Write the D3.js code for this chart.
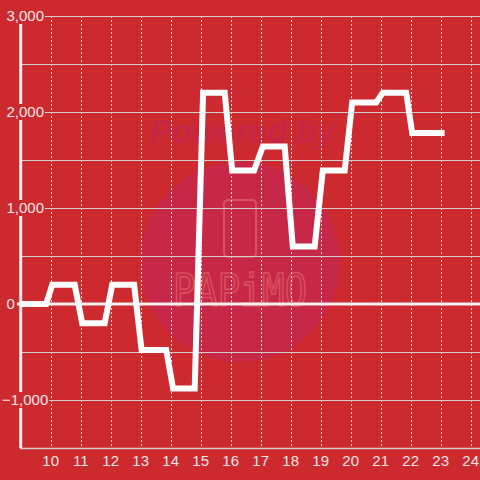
<!DOCTYPE html>
<html>
<head>
<meta charset="utf-8">
<script src="https://cdn.jsdelivr.net/npm/d3@7"></script>
<style>
  html, body { margin: 0; padding: 0; background: #cc2a2f; }
  svg { display: block; }
</style>
</head>
<body>
<svg id="chart" width="480" height="480"></svg>
<script>
// hour of day (x) and value (y)
const times = [9.0, 9.85, 10.05, 10.8, 11.05, 11.8, 12.05, 12.78, 13.03, 13.85, 14.08, 14.8,
  15.08, 15.8, 16.05, 16.78, 17.07, 17.8, 18.07, 18.8, 19.07, 19.8, 20.05, 20.85,
  21.07, 21.85, 22.05, 23.13];
const values = [0, 0, 200, 200, -200, -200, 200, 200, -480, -480, -880, -880,
  2200, 2200, 1390, 1390, 1640, 1640, 600, 600, 1390, 1390, 2100, 2100,
  2200, 2200, 1780, 1780];
const xTicks = [10, 11, 12, 13, 14, 15, 16, 17, 18, 19, 20, 21, 22, 23, 24];
const yGrid = [-1000, -500, 500, 1000, 1500, 2000, 2500, 3000];
const yLabels = [-1000, 0, 1000, 2000, 3000];

const width = 480, height = 480;
const bg = '#cc2a2f';
const svg = d3.select('#chart');

const x = d3.scaleLinear().domain([9, 24]).range([20.7, 470.7]);
const y = d3.scaleLinear().domain([-1500, 3000]).range([448, 16]);
const fmt = d3.format(',');

svg.append('rect').attr('width', width).attr('height', height).attr('fill', bg);

// watermark
const wm = svg.append('g');
wm.append('circle').attr('cx', 240).attr('cy', 262).attr('r', 100).attr('fill', '#c82848');
wm.append('text')
  .attr('x', 242).attr('y', 143)
  .attr('text-anchor', 'middle')
  .attr('textLength', 185).attr('lengthAdjust', 'spacingAndGlyphs')
  .style('font', 'italic bold 34px "Liberation Sans", Arial, sans-serif')
  .attr('fill', '#c62645')
  .text('Powered by');
wm.append('rect')
  .attr('x', 224).attr('y', 200).attr('width', 32).attr('height', 57).attr('rx', 4)
  .attr('fill', 'none').attr('stroke', '#d8535f').attr('stroke-width', 2);
wm.append('text')
  .attr('x', 240).attr('y', 306)
  .attr('text-anchor', 'middle')
  .attr('textLength', 134).attr('lengthAdjust', 'spacingAndGlyphs')
  .style('font', '44px "DejaVu Sans Mono", monospace')
  .attr('fill', 'none').attr('stroke', '#d8535f').attr('stroke-width', 1.6)
  .text('PAPiMO');

// vertical dotted grid
svg.append('g')
  .selectAll('line').data(xTicks).join('line')
  .attr('x1', d => Math.round(x(d)) + 0.5).attr('x2', d => Math.round(x(d)) + 0.5)
  .attr('y1', y(3000)).attr('y2', y(-1500))
  .attr('stroke', '#e6dede').attr('stroke-width', 1).attr('stroke-dasharray', '2,2');

// horizontal grid
svg.append('g')
  .selectAll('line').data(yGrid).join('line')
  .attr('x1', d => yLabels.includes(d) ? 45 : 22).attr('x2', width)
  .attr('y1', d => Math.round(y(d)) + 0.5).attr('y2', d => Math.round(y(d)) + 0.5)
  .attr('stroke', '#d2cccc').attr('stroke-width', 1);

// bottom axis line
svg.append('line')
  .attr('x1', 20).attr('x2', width).attr('y1', 448.5).attr('y2', 448.5)
  .attr('stroke', '#d2cccc').attr('stroke-width', 1.5);

// zero line
svg.append('line')
  .attr('x1', 17).attr('x2', width).attr('y1', y(0)).attr('y2', y(0))
  .attr('stroke', '#f4f0f0').attr('stroke-width', 3);

// y axis line
svg.append('line')
  .attr('x1', 20.7).attr('x2', 20.7).attr('y1', y(3000)).attr('y2', 448)
  .attr('stroke', '#f0ecec').attr('stroke-width', 3);

// data line
const pts = times.map((t, i) => [t, values[i]]);
const line = d3.line().x(d => x(d[0])).y(d => y(d[1]));
svg.append('path')
  .attr('d', line(pts))
  .attr('fill', 'none')
  .attr('stroke', '#ffffff')
  .attr('stroke-width', 6)
  .attr('stroke-linejoin', 'miter');

// y labels with a background that hides the lines behind them
const yl = svg.append('g').selectAll('g').data(yLabels).join('g')
  .attr('transform', d => `translate(${d < 0 ? 2 : 6.5},${y(d)})`);
const bgRect = yl.append('rect').attr('fill', bg);
const yText = yl.append('text')
  .attr('dy', '0.35em')
  .style('font', '15px "Liberation Sans", Arial, sans-serif')
  .attr('fill', '#f3e4e4')
  .text(d => fmt(d));
yText.each(function () {
  const w = this.getComputedTextLength();
  d3.select(this.previousSibling)
    .attr('x', 0).attr('y', -8).attr('width', w + 1).attr('height', 16);
});

// x labels
svg.append('g').selectAll('text').data(xTicks).join('text')
  .attr('x', d => x(d)).attr('y', 466)
  .attr('text-anchor', 'middle')
  .style('font', '15px "Liberation Sans", Arial, sans-serif')
  .attr('fill', '#f3e4e4')
  .text(d => d);
</script>
</body>
</html>
